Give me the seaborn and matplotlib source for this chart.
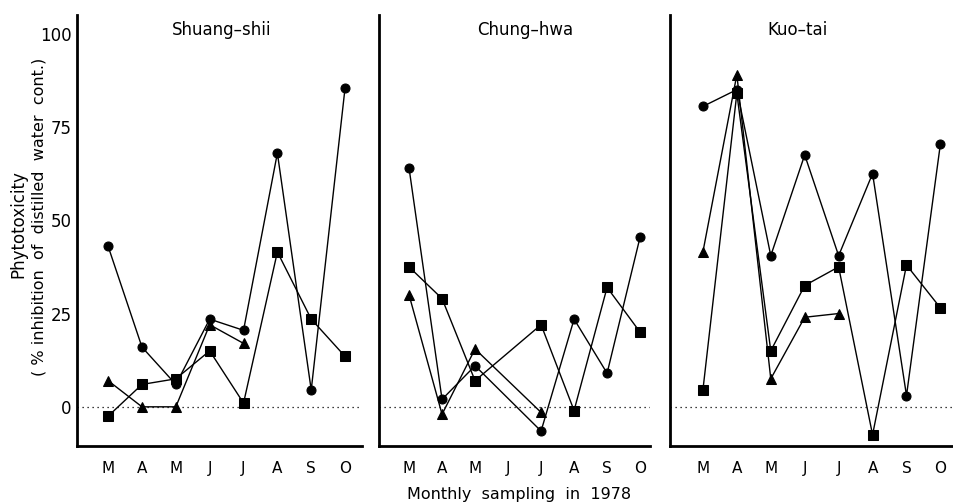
import numpy as np
import pandas as pd
import matplotlib
matplotlib.use("Agg")
import matplotlib.pyplot as plt
import seaborn as sns

nan = np.nan
months = ["M", "A", "M", "J", "J", "A", "S", "O"]
sites = ["Shuang–shii", "Chung–hwa", "Kuo–tai"]

shuang_circle = [43, 16, 6, 23.5, 20.5, 68, 4.5, 85.5]
shuang_square = [-2.5, 6, 7.5, 15, 1, 41.5, 23.5, 13.5]
shuang_triangle = [7, 0, 0, 22, 17, nan, nan, nan]

chung_circle = [64, 2, 11, nan, -6.5, 23.5, 9, 45.5]
chung_square = [37.5, 29, 7, nan, 22, -1, 32, 20]
chung_triangle = [30, -2, 15.5, nan, -1.5, nan, nan, nan]

kuo_circle = [80.5, 85, 40.5, 67.5, 40.5, 62.5, 3, 70.5]
kuo_square = [4.5, 84, 15, 32.5, 37.5, -7.5, 38, 26.5]
kuo_triangle = [41.5, 89, 7.5, 24, 25, nan, nan, nan]

yticks = [0, 25, 50, 75, 100]
ytick_labels = ["0", "25", "50", "75", "100"]

data = {
    sites[0]: (shuang_circle, shuang_square, shuang_triangle),
    sites[1]: (chung_circle, chung_square, chung_triangle),
    sites[2]: (kuo_circle, kuo_square, kuo_triangle),
}

rows = []
for site, (c, s, t) in data.items():
    for name, vals in (("circle", c), ("square", s), ("triangle", t)):
        for i, v in enumerate(vals):
            rows.append({"site": site, "idx": i, "value": v, "series": name})
df = pd.DataFrame(rows).dropna()

sns.set_style("white")
plt.rcParams["font.family"] = ["DejaVu Sans"]
plt.rcParams["text.color"] = "black"
plt.rcParams["xtick.color"] = "black"
plt.rcParams["ytick.color"] = "black"
plt.rcParams["axes.labelcolor"] = "black"

W, H = 954, 504
fig = plt.figure(figsize=(W / 100, H / 100), dpi=100)

panels = [
    # left px, right px, xlim
    (77, 362, (-0.92, 7.5)),
    (379, 650, (-0.91, 7.3)),
    (670, 954, (-0.97, 7.4)),
]
top_px, bottom_px = 15, 446
title_x = [222, 525, 798]

for k, (site, (lpx, rpx, xl)) in enumerate(zip(sites, panels)):
    ax = fig.add_axes([lpx / W, 1 - bottom_px / H, (rpx - lpx) / W, (bottom_px - top_px) / H])
    sub = df[df["site"] == site]
    sns.lineplot(data=sub, x="idx", y="value", style="series",
                 markers={"circle": "o", "square": "s", "triangle": "^"},
                 dashes=False, color="black", linewidth=1.0, markersize=6.5,
                 markeredgecolor="black", ax=ax, legend=False, sort=True,
                 estimator=None)
    ax.axhline(0, color="black", linestyle=(0, (1, 3)), linewidth=0.9, zorder=0)
    ax.set_xlim(*xl)
    ax.set_ylim(-10.5, 105)
    ax.set_xticks(range(len(months)))
    ax.set_xticklabels(months, fontsize=11)
    ax.set_yticks(yticks)
    if k == 0:
        ax.set_yticklabels(ytick_labels, fontsize=12)
    else:
        ax.set_yticklabels([])
    ax.set_xlabel("")
    ax.set_ylabel("")
    for sp in ("top", "right"):
        ax.spines[sp].set_visible(False)
    for sp in ("left", "bottom"):
        ax.spines[sp].set_linewidth(2.0)
        ax.spines[sp].set_color("black")
    ax.tick_params(axis="y", direction="inout", length=6, width=1.2, pad=1, colors="black")
    ax.tick_params(axis="x", direction="inout", length=5, width=1.0, pad=8, colors="black")
    ax.patch.set_alpha(0)
    fig.text(title_x[k] / W, 1 - 30 / H, site, ha="center", va="center", fontsize=12)

fig.text(519 / W, 1 - 494 / H, "Monthly  sampling  in  1978", ha="center", va="center", fontsize=11.5)
fig.text(18 / W, 1 - 224 / H, "Phytotoxicity", rotation=90, ha="center", va="center", fontsize=12)
fig.text(39 / W, 1 - 217 / H, "( % inhibition  of  distilled  water  cont.)", rotation=90,
         ha="center", va="center", fontsize=11.5)

fig.savefig("out.png", dpi=100, facecolor="white")
